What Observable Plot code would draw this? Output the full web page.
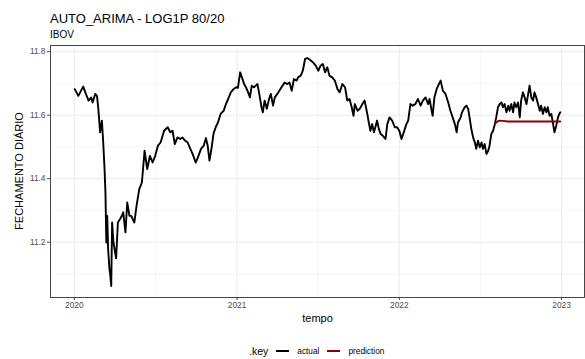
<!DOCTYPE html>
<html><head><meta charset="utf-8">
<script src="https://cdn.jsdelivr.net/npm/d3@7"></script>
<script src="https://cdn.jsdelivr.net/npm/@observablehq/plot@0.6"></script>
<style>
body{margin:0;background:#fff;font-family:"Liberation Sans",Arial,sans-serif;}
#wrap{position:relative;width:585px;height:359px;overflow:hidden;background:#fff;}
#chart{position:absolute;left:0;top:0;}
.t{position:absolute;white-space:nowrap;color:#000;}
#title{left:50px;top:11.5px;font-size:13px;line-height:13px;}
#subtitle{left:50px;top:29.5px;font-size:10px;line-height:10px;}
#xlab{left:0;width:585px;padding-left:50px;box-sizing:border-box;text-align:center;top:312.5px;font-size:11px;line-height:11px;}
#ylab{left:19px;top:171px;font-size:11px;line-height:11px;transform:translate(-50%,-50%) rotate(-90deg);}
#legend{position:absolute;left:249px;top:344px;height:14px;display:flex;align-items:center;font-size:8.3px;}
#legend .k{font-size:10.5px;margin-right:8px;}
#legend .sw{display:inline-block;width:13px;height:2px;margin-right:8px;}
#legend .lab{margin-right:8px;}
</style></head><body><div id="wrap">
<div id="chart"></div>
<div class="t" id="title">AUTO_ARIMA - LOG1P 80/20</div>
<div class="t" id="subtitle">IBOV</div>
<div class="t" id="xlab">tempo</div>
<div class="t" id="ylab">FECHAMENTO DIÁRIO</div>
<div id="legend"></div>
</div>
<script>
// day offset from 2020-01-01, log1p(close)
const actualSeries = [[1,11.682],[9,11.661],[20,11.690],[26,11.667],[32,11.646],[38,11.656],[41,11.640],[47,11.667],[51,11.661],[54,11.620],[58,11.546],[62,11.583],[65,11.514],[68,11.430],[70,11.357],[72,11.199],[74,11.283],[76,11.179],[79,11.116],[81,11.094],[83,11.062],[85,11.262],[88,11.199],[94,11.149],[98,11.262],[103,11.273],[107,11.283],[110,11.294],[115,11.231],[119,11.325],[124,11.283],[128,11.283],[135,11.262],[140,11.315],[146,11.367],[152,11.388],[158,11.488],[164,11.430],[170,11.472],[176,11.451],[182,11.472],[188,11.504],[194,11.514],[202,11.551],[210,11.562],[216,11.546],[221,11.551],[226,11.509],[232,11.530],[238,11.525],[243,11.530],[249,11.520],[255,11.514],[261,11.494],[266,11.478],[273,11.451],[278,11.467],[285,11.494],[291,11.504],[296,11.528],[300,11.504],[304,11.457],[309,11.499],[313,11.541],[318,11.562],[323,11.577],[329,11.604],[336,11.614],[341,11.635],[346,11.651],[352,11.672],[358,11.682],[364,11.688],[368,11.686],[373,11.735],[377,11.719],[382,11.698],[386,11.688],[391,11.672],[395,11.656],[399,11.693],[404,11.688],[412,11.698],[416,11.667],[421,11.625],[424,11.609],[428,11.646],[433,11.620],[438,11.651],[442,11.667],[447,11.630],[451,11.656],[459,11.672],[466,11.688],[473,11.703],[479,11.698],[484,11.703],[489,11.677],[494,11.714],[500,11.709],[504,11.721],[509,11.724],[514,11.740],[519,11.777],[524,11.780],[532,11.772],[537,11.766],[543,11.756],[549,11.740],[554,11.756],[559,11.761],[564,11.735],[569,11.751],[574,11.724],[580,11.719],[586,11.709],[592,11.682],[597,11.672],[603,11.698],[609,11.688],[614,11.646],[619,11.651],[624,11.625],[628,11.598],[631,11.635],[637,11.614],[642,11.620],[648,11.635],[653,11.646],[659,11.604],[663,11.572],[666,11.551],[670,11.572],[674,11.546],[678,11.567],[681,11.583],[685,11.557],[689,11.541],[694,11.535],[700,11.525],[704,11.572],[709,11.593],[715,11.583],[721,11.562],[726,11.562],[731,11.551],[736,11.525],[741,11.546],[747,11.572],[751,11.583],[756,11.635],[761,11.630],[767,11.635],[773,11.651],[779,11.630],[784,11.646],[790,11.656],[796,11.635],[799,11.651],[803,11.620],[806,11.598],[810,11.656],[815,11.682],[820,11.698],[824,11.709],[829,11.677],[835,11.667],[841,11.640],[846,11.614],[851,11.593],[856,11.572],[860,11.546],[863,11.577],[869,11.593],[872,11.609],[878,11.625],[882,11.630],[886,11.620],[889,11.593],[893,11.557],[897,11.530],[901,11.514],[904,11.494],[908,11.520],[912,11.499],[916,11.514],[919,11.494],[923,11.509],[927,11.478],[931,11.488],[934,11.504],[938,11.541],[942,11.551],[946,11.572],[949,11.593],[953,11.625],[957,11.635],[961,11.640],[964,11.625],[968,11.635],[972,11.609],[976,11.630],[979,11.614],[983,11.635],[987,11.609],[990,11.640],[994,11.625],[998,11.640],[1002,11.593],[1005,11.646],[1009,11.672],[1013,11.656],[1017,11.635],[1021,11.667],[1024,11.693],[1028,11.656],[1032,11.646],[1035,11.672],[1039,11.656],[1043,11.635],[1047,11.614],[1050,11.630],[1054,11.604],[1058,11.625],[1062,11.609],[1065,11.625],[1069,11.598],[1073,11.604],[1077,11.572],[1080,11.546],[1084,11.567],[1088,11.593],[1091,11.604],[1093,11.609]];
const predictionSeries = [[946,11.572],[949,11.577],[953,11.581],[957,11.583],[964,11.582],[975,11.580],[1093,11.580]];
const seriesKeys = ["actual","prediction"];
const seriesColors = ["#000000","#8b0000"];
const yTicks = [11.2,11.4,11.6,11.8];
const yMinorTicks = [11.1,11.3,11.5,11.7];
const xTickYears = [2020,2021,2022,2023];
const xMinorDates = ["2020-07-02","2021-07-02","2022-07-02"];
const xDomainDays = [-53.6,1147.6];
const yDomain = [11.0258,11.8195];

const start = Date.UTC(2020,0,1);
const toDate = d => new Date(start + d*864e5);
const rows = [
  ...actualSeries.map(([d,v]) => ({date: toDate(d), value: v, key: "actual"})),
  ...predictionSeries.map(([d,v]) => ({date: toDate(d), value: v, key: "prediction"}))
];
const xTicks = xTickYears.map(y => new Date(Date.UTC(y,0,1)));
const xMinor = xMinorDates.map(s => new Date(s + "T00:00:00Z"));

const chart = Plot.plot({
  width: 585, height: 359,
  marginTop: 45, marginBottom: 62, marginLeft: 50, marginRight: 1,
  style: {fontFamily: '"Liberation Sans", Arial, sans-serif', fontSize: "8.3px", background: "transparent", overflow: "visible"},
  x: {type: "utc", domain: xDomainDays.map(toDate), label: null},
  y: {domain: yDomain, label: null},
  color: {domain: seriesKeys, range: seriesColors},
  marks: [
    Plot.ruleY(yMinorTicks, {stroke: "#ebebeb", strokeWidth: 0.5}),
    Plot.ruleX(xMinor, {stroke: "#ebebeb", strokeWidth: 0.5}),
    Plot.ruleY(yTicks, {stroke: "#ebebeb", strokeWidth: 1}),
    Plot.ruleX(xTicks, {stroke: "#ebebeb", strokeWidth: 1}),
    Plot.axisY(yTicks, {tickSize: 3, tickPadding: 2, tickFormat: d => d.toFixed(1), color: "#4d4d4d", label: null}),
    Plot.axisX(xTicks, {tickSize: 3, tickPadding: 2, tickFormat: d => String(d.getUTCFullYear()), color: "#4d4d4d", label: null}),
    Plot.line(rows, {x: "date", y: "value", z: "key", stroke: "key", strokeWidth: 1.9, strokeLinejoin: "round"}),
    Plot.frame({stroke: "#333333", strokeWidth: 0.9})
  ]
});
document.getElementById("chart").appendChild(chart);

const lg = document.getElementById("legend");
lg.innerHTML = '<span class="k">.key</span>' + seriesKeys.map((k,i) =>
  `<span class="sw" style="background:${seriesColors[i]}"></span><span class="lab">${k}</span>`).join("");
</script>
</body></html>
